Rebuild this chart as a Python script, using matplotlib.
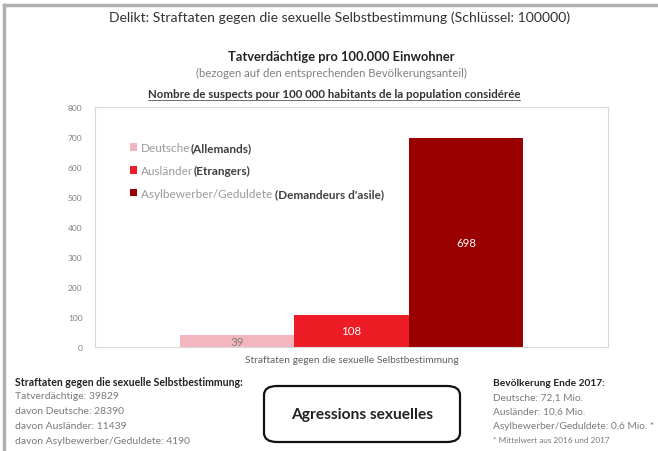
import matplotlib
matplotlib.use("Agg")
import matplotlib.pyplot as plt
from matplotlib.patches import FancyBboxPatch
from matplotlib.lines import Line2D

plt.rcParams['font.family'] = ['Lato', 'DejaVu Sans']

# ---- data ----
categories = ["Straftaten gegen die sexuelle Selbstbestimmung"]
series_names = ["Deutsche", "Ausländer", "Asylbewerber/Geduldete "]
series_fr = ["(Allemands)", "(Etrangers)", "(Demandeurs d'asile)"]
series_values = [39, 108, 698]
series_colors = ["#F4B6BE", "#EE1C24", "#9A0000"]
label_colors = ["#7f7f7f", "white", "white"]
yticks = [0, 100, 200, 300, 400, 500, 600, 700, 800]

left_lines = ["Tatverdächtige: 39829", "davon Deutsche: 28390",
              "davon Ausländer: 11439", "davon Asylbewerber/Geduldete: 4190"]
right_lines = ["Deutsche: 72,1 Mio.", "Ausländer: 10,6 Mio.",
               "Asylbewerber/Geduldete: 0,6 Mio. *"]

W, H = 658, 452
fig = plt.figure(figsize=(W / 100, H / 100), dpi=100)
fig.patch.set_facecolor("white")

def fx(x): return x / W
def fy(y): return 1 - y / H

# outer border (screenshot frame)
fig.add_artist(Line2D([fx(4), fx(4)], [fy(6), fy(452)], color="#b0b0b0", lw=2.5, transform=fig.transFigure))
fig.add_artist(Line2D([fx(4), fx(658)], [fy(6), fy(6)], color="#b0b0b0", lw=2.5, transform=fig.transFigure))

ax = fig.add_axes([fx(95), fy(348), (608 - 95) / W, 240 / H])
positions = [-1, 0, 1]
bars = []
for p, v, c, n in zip(positions, series_values, series_colors, series_names):
    b = ax.bar(p, v, width=1.0, color=c, label=n)
    bars.append(b)
ax.set_xlim(-2.24, 2.24)
ax.set_ylim(0, 800)
ax.set_yticks(yticks)
ax.set_yticklabels([str(t) for t in yticks], fontsize=6, color="#808080")
ax.set_xticks([0])
ax.set_xticklabels(categories, fontsize=7.3, color="#606060")
ax.tick_params(length=0, pad=9)
ax.tick_params(axis='x', pad=6)
for s in ax.spines.values():
    s.set_color("#d9d9d9")
    s.set_linewidth(0.8)

# value labels
for b, v, lc in zip(bars, series_values, label_colors):
    r = b[0]
    xc = r.get_x() + r.get_width() / 2
    ax.text(xc, v / 2, str(v), ha="center", va="center", fontsize=8.3, color=lc)

# legend
leg = ax.legend(loc="upper left", bbox_to_anchor=(0.068, 0.853), frameon=False,
                fontsize=8.5, handlelength=0.6, handleheight=0.6,
                handletextpad=0.35, labelspacing=1.0, borderaxespad=0,
                borderpad=0)
for t in leg.get_texts():
    t.set_color("#9a9a9a")
fig.canvas.draw()
renderer = fig.canvas.get_renderer()
inv = fig.transFigure.inverted()
for t, fr in zip(leg.get_texts(), series_fr):
    bb = t.get_window_extent(renderer)
    x0, y0 = inv.transform((bb.x1, (bb.y0 + bb.y1) / 2))
    fig.text(x0, y0, fr, fontsize=8.5, fontweight="bold", color="#404040",
             ha="left", va="center")

# titles
fig.text(fx(340), fy(18), "Delikt: Straftaten gegen die sexuelle Selbstbestimmung (Schlüssel: 100000)",
         ha="center", va="center", fontsize=10.1, color="#333333")
fig.text(fx(341), fy(57), "Tatverdächtige pro 100.000 Einwohner",
         ha="center", va="center", fontsize=9.3, fontweight="bold", color="#222222")
fig.text(fx(331), fy(73), "(bezogen auf den entsprechenden Bevölkerungsanteil)",
         ha="center", va="center", fontsize=8.2, color="#808080")
t_fr = fig.text(fx(334), fy(95), "Nombre de suspects pour 100 000 habitants de la population considérée",
                ha="center", va="center", fontsize=8.3, fontweight="bold", color="#333333")
fig.canvas.draw()
bb = t_fr.get_window_extent(renderer)
(ux0, uy), (ux1, _) = inv.transform((bb.x0, bb.y0)), inv.transform((bb.x1, bb.y0))
fig.add_artist(Line2D([ux0, ux1], [uy - 0.001, uy - 0.001], color="#555555", lw=0.6,
                      transform=fig.transFigure))

# bottom left block
fig.text(fx(15), fy(383), "Straftaten gegen die sexuelle Selbstbestimmung:",
         ha="left", va="center", fontsize=7.6, fontweight="bold", color="#222222")
for i, s in enumerate(left_lines):
    fig.text(fx(15), fy(397 + i * 14.7), s, ha="left", va="center", fontsize=7.5, color="#7a7a7a")

# box
box = FancyBboxPatch((fx(264), fy(443)), fx(460) - fx(264), fy(387) - fy(443),
                     boxstyle="round,pad=0,rounding_size=0.02", transform=fig.transFigure,
                     facecolor="white", edgecolor="#111111", lw=1.6)
fig.add_artist(box)
fig.text(fx(362), fy(415), "Agressions sexuelles", ha="center", va="center",
         fontsize=11.2, fontweight="bold", color="#222222")

# bottom right block
fig.text(fx(493), fy(383), "Bevölkerung Ende 2017:", ha="left", va="center",
         fontsize=7.3, fontweight="bold", color="#222222")
for i, s in enumerate(right_lines):
    fig.text(fx(493), fy(398 + i * 14.5), s, ha="left", va="center", fontsize=7.3, color="#7a7a7a")
fig.text(fx(493), fy(441), "* Mittelwert aus 2016 und 2017", ha="left", va="center",
         fontsize=5.9, color="#7a7a7a")

fig.savefig("out.png", dpi=100, facecolor="white")
